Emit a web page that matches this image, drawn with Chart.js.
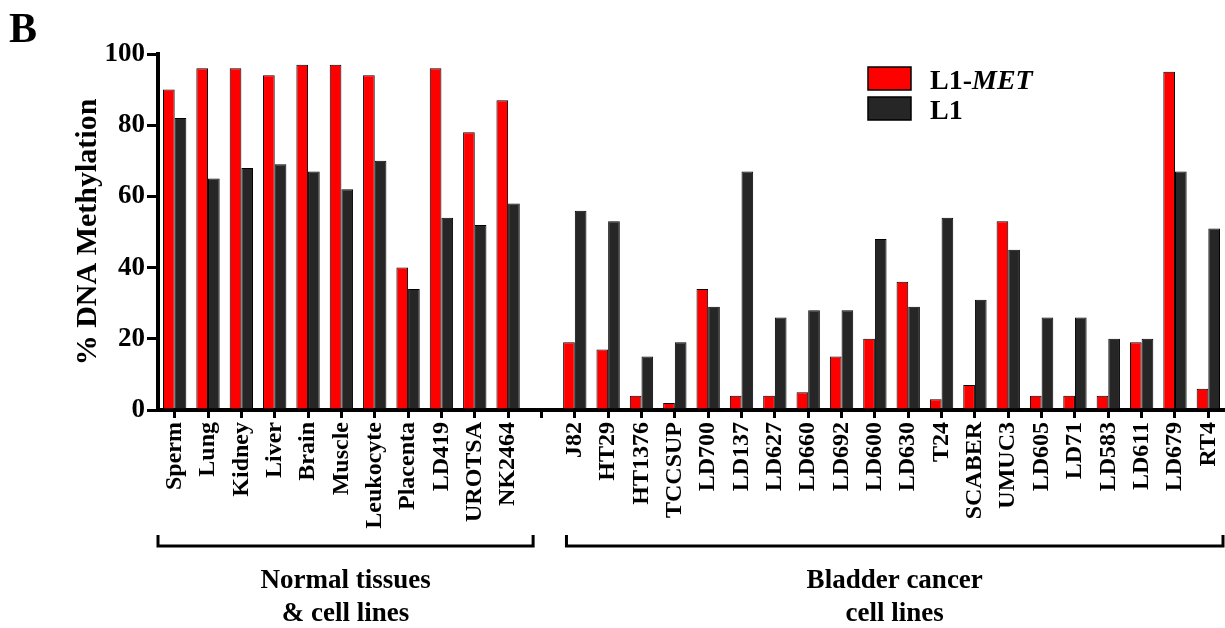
<!DOCTYPE html>
<html>
<head>
<meta charset="utf-8">
<script src="https://cdn.jsdelivr.net/npm/chart.js@4.4.1/dist/chart.umd.min.js"></script>
<style>
  html, body { margin: 0; padding: 0; background: #ffffff; }
  #wrap { width: 1225px; height: 628px; position: relative; }
</style>
</head>
<body>
<div id="wrap"><canvas id="chart" width="1225" height="628"></canvas></div>
<script>
// Sample groups
const normalLabels = ['Sperm', 'Lung', 'Kidney', 'Liver', 'Brain', 'Muscle', 'Leukocyte', 'Placenta', 'LD419', 'UROTSA', 'NK2464'];
const cancerLabels = ['J82', 'HT29', 'HT1376', 'TCCSUP', 'LD700', 'LD137', 'LD627', 'LD660', 'LD692', 'LD600', 'LD630', 'T24', 'SCABER', 'UMUC3', 'LD605', 'LD71', 'LD583', 'LD611', 'LD679', 'RT4'];

// % DNA methylation, L1-MET and L1
const normalMet = [90, 96, 96, 94, 97, 97, 94, 40, 96, 78, 87];
const normalL1  = [82, 65, 68, 69, 67, 62, 70, 34, 54, 52, 58];
const cancerMet = [19, 17, 4, 2, 34, 4, 4, 5, 15, 20, 36, 3, 7, 53, 4, 4, 4, 19, 95, 6];
const cancerL1  = [56, 53, 15, 19, 29, 67, 26, 28, 28, 48, 29, 54, 31, 45, 26, 26, 20, 20, 67, 51];

// Y axis ticks
const yTickValues = [0, 20, 40, 60, 80, 100];

// Group captions under the axis
const groupCaptions = [
  ['Normal tissues', '& cell lines'],
  ['Bladder cancer', 'cell lines']
];

// One empty slot separates the two groups on the category axis
const labels = [...normalLabels, '', ...cancerLabels];
const metData = [...normalMet, null, ...cancerMet];
const l1Data = [...normalL1, null, ...cancerL1];
const groupRanges = [
  { from: 0, to: normalLabels.length - 1 },
  { from: normalLabels.length + 1, to: labels.length - 1 }
];

const SERIF = "'Liberation Serif', 'Times New Roman', serif";
const RED = '#ff0000';
const DARK = '#262626';

const overlay = {
  id: 'overlay',
  afterDraw(chart) {
    const ctx = chart.ctx;
    const x = chart.scales.x;
    const area = chart.chartArea;
    const step = x.getPixelForValue(1) - x.getPixelForValue(0);
    ctx.save();

    // Panel letter
    ctx.fillStyle = '#000';
    ctx.font = 'bold 42px ' + SERIF;
    ctx.textAlign = 'left';
    ctx.textBaseline = 'alphabetic';
    ctx.fillText('B', 9, 42);

    // Legend
    const ds = chart.data.datasets;
    const lx = 868, boxW = 43, boxH = 23;
    const rows = [67, 97];
    ctx.lineWidth = 1.5;
    ctx.strokeStyle = '#000';
    rows.forEach((ry, i) => {
      ctx.fillStyle = ds[i].backgroundColor;
      ctx.fillRect(lx, ry, boxW, boxH);
      ctx.strokeRect(lx, ry, boxW, boxH);
    });
    ctx.fillStyle = '#000';
    ctx.font = 'bold 28px ' + SERIF;
    ctx.fillText('L1-', 930, 89);
    const w = ctx.measureText('L1-').width;
    ctx.font = 'italic bold 28px ' + SERIF;
    ctx.fillText('MET', 930 + w, 89);
    ctx.font = 'bold 28px ' + SERIF;
    ctx.fillText(ds[1].label, 930, 119);

    // Group brackets and captions
    const by = 546;
    ctx.lineWidth = 3;
    ctx.strokeStyle = '#000';
    groupRanges.forEach((g, i) => {
      const x0 = i === 0 ? x.getPixelForValue(g.from) - step / 2 : x.getPixelForValue(g.from) - step * 0.25;
      const x1 = i === 0 ? x.getPixelForValue(g.to) + step * 0.75 : Math.min(area.right - 2, x.getPixelForValue(g.to) + step / 2);
      ctx.beginPath();
      ctx.moveTo(x0, by - 11);
      ctx.lineTo(x0, by);
      ctx.lineTo(x1, by);
      ctx.lineTo(x1, by - 11);
      ctx.stroke();
      const cx = (x0 + x1) / 2;
      ctx.font = 'bold 27px ' + SERIF;
      ctx.textAlign = 'center';
      ctx.fillStyle = '#000';
      groupCaptions[i].forEach((line, k) => {
        ctx.fillText(line, cx, 588 + k * 33);
      });
    });
    ctx.restore();
  }
};

new Chart(document.getElementById('chart'), {
  type: 'bar',
  data: {
    labels: labels,
    datasets: [
      {
        label: 'L1-MET',
        data: metData,
        backgroundColor: RED,
        borderColor: '#000',
        borderWidth: 1,
        categoryPercentage: 0.7,
        barPercentage: 1.0
      },
      {
        label: 'L1',
        data: l1Data,
        backgroundColor: DARK,
        borderColor: '#000',
        borderWidth: 1,
        categoryPercentage: 0.7,
        barPercentage: 1.0
      }
    ]
  },
  options: {
    responsive: false,
    devicePixelRatio: 1,
    animation: false,
    layout: { padding: { top: 54, right: 0, bottom: 0, left: 0 } },
    plugins: {
      legend: { display: false },
      tooltip: { enabled: false }
    },
    scales: {
      x: {
        offset: true,
        grid: {
          display: true,
          offset: false,
          drawOnChartArea: false,
          drawTicks: true,
          tickLength: 8,
          tickWidth: 3,
          tickColor: '#000',
          lineWidth: 3,
          color: '#000'
        },
        border: { display: true, color: '#000', width: 4 },
        ticks: {
          autoSkip: false,
          maxRotation: 90,
          minRotation: 90,
          padding: 4,
          color: '#000',
          font: { family: SERIF, weight: 'bold', size: 24 }
        },
        afterFit(scale) {
          scale.height = 218;
          scale.paddingLeft = 0;
          scale.paddingRight = 0;
        }
      },
      y: {
        min: 0,
        max: 100,
        afterBuildTicks(scale) {
          scale.ticks = yTickValues.map(v => ({ value: v }));
        },
        grid: {
          display: true,
          drawOnChartArea: false,
          drawTicks: true,
          tickLength: 11,
          tickWidth: 3,
          tickColor: '#000',
          lineWidth: 3,
          color: '#000'
        },
        border: { display: true, color: '#000', width: 4 },
        ticks: {
          padding: 2,
          color: '#000',
          font: { family: SERIF, weight: 'bold', size: 27 }
        },
        title: {
          display: true,
          text: '% DNA Methylation',
          color: '#000',
          font: { family: SERIF, weight: 'bold', size: 30 },
          padding: { top: 70, bottom: 0 }
        },
        afterFit(scale) {
          scale.width = 158;
          scale.paddingTop = 0;
          scale.paddingBottom = 0;
        }
      }
    }
  },
  plugins: [overlay]
});
</script>
</body>
</html>
